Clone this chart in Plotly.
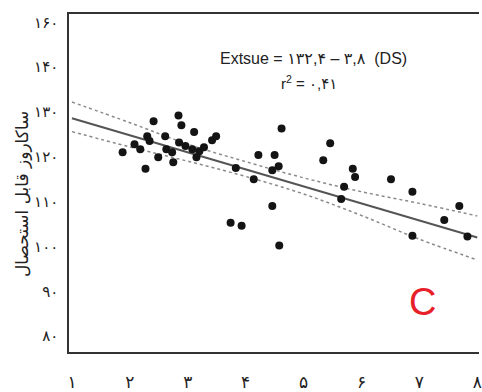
import plotly.graph_objects as go

# ---- data ----
x_vals = [1.875, 2.08, 2.18, 2.27, 2.30, 2.34, 2.41, 2.49, 2.61, 2.63, 2.73, 2.75,
          2.84, 2.89, 2.85, 2.96, 3.08, 3.11, 3.15, 3.20, 3.28, 3.42, 3.49,
          3.83, 4.14, 4.22, 4.46, 4.50, 4.57, 4.46, 3.74, 3.93, 4.58, 4.62,
          5.46, 5.34, 5.85, 5.89, 5.70, 5.65, 6.51, 6.88, 6.88, 7.69, 7.43, 7.83]
y_vals = [121.0, 122.8, 121.7, 117.3, 124.6, 123.5, 127.9, 119.9, 124.6, 121.7, 121.0, 118.8,
          129.2, 127.0, 123.2, 122.4, 121.7, 125.5, 119.9, 121.2, 122.1, 123.7, 124.6,
          117.5, 115.0, 120.4, 117.0, 120.4, 117.9, 109.0, 105.3, 104.6, 100.2, 126.3,
          123.0, 119.2, 117.3, 115.5, 113.3, 110.6, 115.0, 112.2, 102.4, 109.0, 105.9, 102.2]

fit_x = [1, 8]
fit_y = [128.6, 102.0]

band_x = [1, 2, 3, 4, 5, 6, 7, 8]
band_upper = [132.2, 127.6, 122.8, 118.9, 115.3, 112.2, 109.6, 106.8]
band_lower = [125.6, 122.2, 119.0, 115.6, 111.7, 106.9, 101.6, 97.0]

x_ticks = [1, 2, 3, 4, 5, 6, 7, 8]
x_tick_text = ["۱", "۲", "۳", "۴", "۵", "۶", "۷", "۸"]
y_ticks = [80, 90, 100, 110, 120, 130, 140, 150]
y_tick_text = ["۸۰", "۹۰", "۱۰۰", "۱۱۰", "۱۲۰", "۱۳۰", "۱۴۰", "۱۶۰"]

y_title = "ساکاروز قابل استحصال"
eq_text = "Extsue = ۱۳۲,۴ – ۳,۸  (DS)"
r2_text = "r<sup>2</sup> = ۰,۴۱"
panel_label = "C"

fig = go.Figure()
for yb in (band_upper, band_lower):
    fig.add_trace(go.Scatter(x=band_x, y=yb, mode="lines",
                             line=dict(color="#8a8a8a", width=1.5, dash="dot", shape="spline"),
                             hoverinfo="skip", showlegend=False))
fig.add_trace(go.Scatter(x=fit_x, y=fit_y, mode="lines", line=dict(color="#555555", width=2),
                         showlegend=False))
fig.add_trace(go.Scatter(x=x_vals, y=y_vals, mode="markers",
                         marker=dict(color="#141414", size=8, symbol="circle"), showlegend=False))

font_main = "Liberation Sans, DejaVu Sans, Arial, sans-serif"
fig.update_layout(
    width=482, height=392,
    margin=dict(l=69, r=0, t=14, b=38),
    paper_bgcolor="white", plot_bgcolor="white",
    font=dict(family=font_main, color="#222222", size=15),
    xaxis=dict(range=[0.949, 8.03], tickvals=x_ticks, ticktext=x_tick_text,
               showgrid=False, zeroline=False, showline=True, mirror=True,
               linecolor="#333333", linewidth=1.5, ticks="", ticklabelstandoff=14,
               ticklabeloverflow="allow",
               tickfont=dict(size=17, family="DejaVu Sans, sans-serif")),
    yaxis=dict(range=[76.45, 151.84], tickvals=y_ticks, ticktext=y_tick_text,
               showgrid=False, zeroline=False, showline=True, mirror=False,
               linecolor="#333333", linewidth=1.5, ticks="", ticklabelstandoff=6,
               tickfont=dict(size=15, family="DejaVu Sans, sans-serif")),
    annotations=[
        dict(text=y_title, textangle=-90, xref="paper", yref="paper",
             x=-0.114, y=0.468, xanchor="center", yanchor="middle", showarrow=False,
             font=dict(size=17, family="DejaVu Sans, sans-serif", color="#222222")),
        dict(text=eq_text, xref="x", yref="y", x=5.17, y=142.0, showarrow=False,
             xanchor="center", yanchor="middle", font=dict(size=16, color="#222222")),
        dict(text=r2_text, xref="x", yref="y", x=5.1, y=136.5, showarrow=False,
             xanchor="center", yanchor="middle", font=dict(size=15, color="#222222")),
        dict(text=panel_label, xref="x", yref="y", x=7.05, y=87.6, showarrow=False,
             xanchor="center", yanchor="middle", font=dict(size=38, color="#e8202a")),
    ],
)

fig.write_html("out.html")
